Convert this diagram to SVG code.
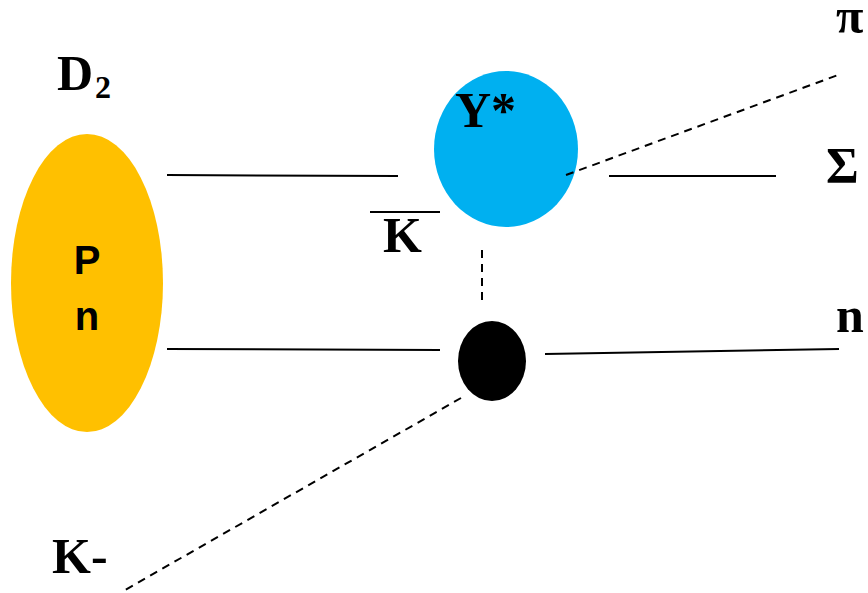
<svg xmlns="http://www.w3.org/2000/svg" width="868" height="593" viewBox="0 0 868 593">
<style>
.l{stroke:#000;stroke-width:2;fill:none}
.d{stroke:#000;stroke-width:2;fill:none;stroke-dasharray:8 6}
.t{font-family:"Liberation Serif",serif;font-weight:bold;font-size:50px;fill:#000}
.s{font-family:"Liberation Sans",sans-serif;font-weight:bold;font-size:40px;fill:#000;text-anchor:middle}
</style>
<rect width="868" height="593" fill="#fff"/>
<g id="D2">
<ellipse cx="87" cy="283" rx="76" ry="149" fill="#FFC000"/>
<text class="s" x="87" y="274">P</text>
<text class="s" x="87" y="330">n</text>
<text class="t" x="57" y="90">D<tspan font-size="32" dy="8" dx="2">2</tspan></text>
</g>
<g id="Ystar">
<ellipse cx="506" cy="149" rx="72" ry="78" fill="#00B0F0"/>
<text class="t" x="455" y="127">Y*</text>
</g>
<g id="vertex">
<ellipse cx="492" cy="361" rx="34" ry="40" fill="#000"/>
</g>
<g id="Kbar">
<line class="l" x1="370" y1="212" x2="440" y2="212"/>
<text class="t" x="383" y="252">K</text>
</g>
<g id="pi"><text class="t" x="836" y="33">π</text></g>
<g id="Sigma"><text class="t" x="826" y="182">Σ</text></g>
<g id="nout"><text class="t" x="836" y="332">n</text></g>
<g id="Kminus"><text class="t" x="52" y="573">K-</text></g>
<g id="connectors">
<line class="l" x1="167" y1="175" x2="398" y2="176"/>
<line class="l" x1="167" y1="349" x2="440" y2="350"/>
<line class="l" x1="609" y1="176" x2="776" y2="176"/>
<line class="l" x1="545" y1="354" x2="839" y2="349"/>
<line class="d" x1="566" y1="175" x2="838" y2="75"/>
<line class="d" x1="482" y1="250" x2="482" y2="300"/>
<line class="d" x1="461" y1="398" x2="125" y2="590"/>
</g>
</svg>
